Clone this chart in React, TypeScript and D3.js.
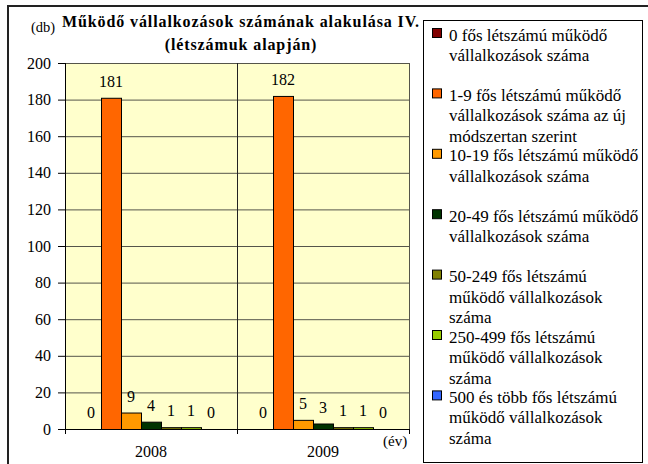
import React, { useEffect, useRef } from "react";
import * as d3 from "d3";

const years = ["2008", "2009"];
const seriesNames = [
  ["0 fős létszámú működő", "vállalkozások száma"],
  ["1-9 fős létszámú működő", "vállalkozások száma az új", "módszertan szerint"],
  ["10-19 fős létszámú működő", "vállalkozások száma"],
  ["20-49 fős létszámú működő", "vállalkozások száma"],
  ["50-249 fős létszámú", "működő vállalkozások", "száma"],
  ["250-499 fős létszámú", "működő vállalkozások", "száma"],
  ["500 és több fős létszámú", "működő vállalkozások", "száma"],
];
const seriesColors = ["#800000", "#FF6600", "#FF9900", "#003300", "#808000", "#99CC00", "#3366FF"];
const values2008 = [0, 181, 9, 4, 1, 1, 0];
const values2009 = [0, 182, 5, 3, 1, 1, 0];
const yTicks = [0, 20, 40, 60, 80, 100, 120, 140, 160, 180, 200];
const titleLines = ["Működő vállalkozások számának alakulása IV.", "(létszámuk alapján)"];

export default function App() {
  const ref = useRef<SVGSVGElement>(null);
  useEffect(() => {
    const svg = d3.select(ref.current);
    svg.selectAll("*").remove();
    const W = 648, H = 464;
    const pl = 65, pr = 409, pt = 63, pb = 429;

    svg.append("rect").attr("x", 0).attr("y", 0).attr("width", W).attr("height", H).attr("fill", "#fff");
    svg.append("rect").attr("x", 8).attr("y", 6).attr("width", W + 10).attr("height", H + 10)
      .attr("fill", "none").attr("stroke", "#222").attr("stroke-width", 2);

    const x0 = d3.scaleBand().domain(years).range([pl, pr]).padding(0);
    const x1 = d3.scaleBand().domain(d3.range(7).map(String)).range([0, x0.bandwidth()]).paddingOuter(0.8).paddingInner(0);
    const y = d3.scaleLinear().domain([0, 200]).range([pb, pt]);

    svg.append("rect").attr("x", pl).attr("y", pt).attr("width", pr - pl).attr("height", pb - pt).attr("fill", "#FFFFCC");

    svg.append("g").selectAll("line").data(yTicks.filter(d => d > 0)).join("line")
      .attr("x1", pl).attr("x2", pr).attr("y1", d => y(d) + 0.5).attr("y2", d => y(d) + 0.5)
      .attr("stroke", "#55554a").attr("stroke-width", 1);
    svg.append("line").attr("x1", pr + 0.5).attr("x2", pr + 0.5).attr("y1", pt).attr("y2", pb).attr("stroke", "#55554a");
    svg.append("line").attr("x1", x0("2009")! + 0.5).attr("x2", x0("2009")! + 0.5).attr("y1", pt).attr("y2", pb).attr("stroke", "#222");

    const data = [values2008, values2009];
    years.forEach((yr, gi) => {
      const g = svg.append("g").attr("transform", `translate(${x0(yr)},0)`);
      const vals = data[gi];
      g.selectAll("rect").data(vals).join("rect")
        .attr("x", (d, i) => x1(String(i))! + 0.5)
        .attr("y", d => y(d) + 0.5)
        .attr("width", x1.bandwidth())
        .attr("height", d => Math.max(0, pb - y(d)))
        .attr("fill", (d, i) => seriesColors[i])
        .attr("stroke", (d) => d > 0 ? "#000" : "none").attr("stroke-width", 1);
      g.selectAll("text").data(vals).join("text")
        .attr("x", (d, i) => x1(String(i))! + x1.bandwidth() / 2)
        .attr("y", d => y(d) - 11)
        .attr("text-anchor", "middle").attr("font-size", 16).attr("fill", "#000")
        .text(d => String(d));
    });

    svg.append("line").attr("x1", pl + 0.5).attr("x2", pl + 0.5).attr("y1", pt).attr("y2", pb + 5).attr("stroke", "#000");
    const yt = svg.append("g");
    yt.selectAll("line").data(yTicks).join("line")
      .attr("x1", pl - 7).attr("x2", pl).attr("y1", d => y(d) + 0.5).attr("y2", d => y(d) + 0.5).attr("stroke", "#000");
    yt.selectAll("text").data(yTicks).join("text")
      .attr("x", 51).attr("y", d => y(d) + 5.5).attr("text-anchor", "end")
      .attr("font-size", 16).text(d => String(d));

    svg.append("line").attr("x1", pl).attr("x2", pr + 1).attr("y1", pb + 0.5).attr("y2", pb + 0.5).attr("stroke", "#000");
    const xTickPos = [pl, x0("2009")!, pr];
    svg.append("g").selectAll("line").data(xTickPos).join("line")
      .attr("x1", d => d + 0.5).attr("x2", d => d + 0.5).attr("y1", pb).attr("y2", pb + 5).attr("stroke", "#000");
    svg.append("g").selectAll("text").data(years).join("text")
      .attr("x", d => x0(d)! + x0.bandwidth() / 2).attr("y", 457).attr("text-anchor", "middle")
      .attr("font-size", 16).text(d => d);
    svg.append("text").attr("x", 383).attr("y", 446).attr("font-size", 15).text("(év)");

    svg.append("text").attr("x", 241).attr("y", 27).attr("text-anchor", "middle")
      .attr("font-size", 16).attr("font-weight", "bold").attr("letter-spacing", 0.9)
      .text(titleLines[0]);
    svg.append("text").attr("x", 241).attr("y", 50).attr("text-anchor", "middle")
      .attr("font-size", 16).attr("font-weight", "bold").attr("letter-spacing", 0.9)
      .text(titleLines[1]);
    svg.append("text").attr("x", 31).attr("y", 32).attr("font-size", 14.5).text("(db)");

    const lx = 423, ly = 20, lw = 219, lh = 442;
    svg.append("rect").attr("x", lx + 0.5).attr("y", ly + 0.5).attr("width", lw).attr("height", lh)
      .attr("fill", "#fff").attr("stroke", "#000");
    const slot = 60.4;
    seriesNames.forEach((lines, i) => {
      const top = ly + 15 + i * slot;
      svg.append("rect").attr("x", 432.5).attr("y", top - 6.5).attr("width", 9).attr("height", 9)
        .attr("fill", seriesColors[i]).attr("stroke", "#000");
      lines.forEach((ln, j) => {
        svg.append("text").attr("x", 449).attr("y", top + 5.5 + j * 20.5)
          .attr("font-size", 17).text(ln);
      });
    });
  }, []);
  return <svg ref={ref} width={648} height={464}
    style={{ display: "block", position: "absolute", left: 0, top: 0, fontFamily: "Liberation Serif, Times New Roman, serif" }} />;
}
